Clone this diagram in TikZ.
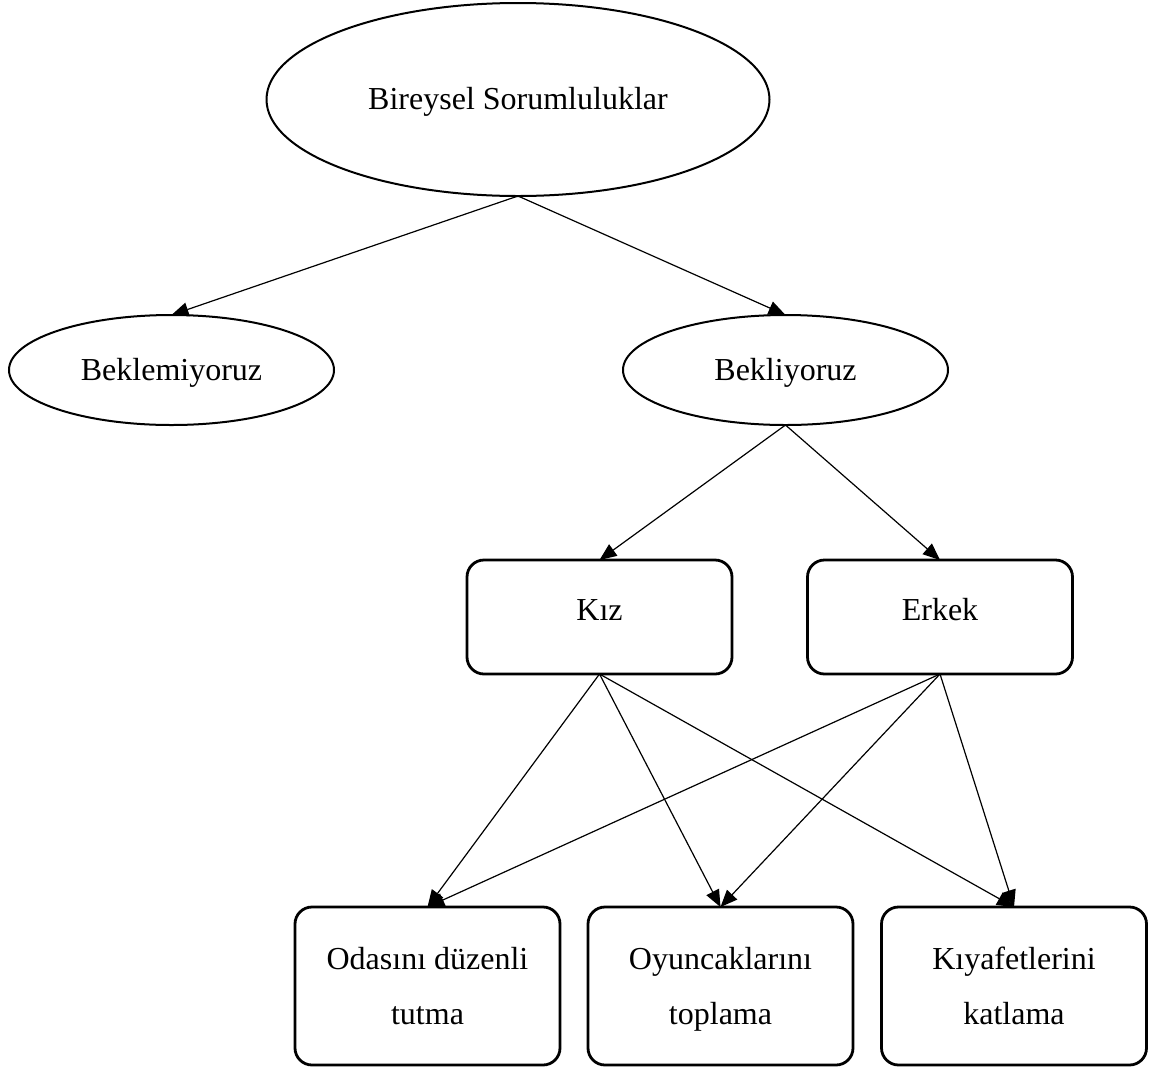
\documentclass[tikz,border=0pt]{standalone}
\usepackage{fontspec}
\setmainfont{Liberation Serif}
\usetikzlibrary{shapes.geometric,arrows.meta}

\tikzset{
  oval/.style={ellipse, draw, line width=1pt, inner sep=0pt, outer sep=0pt,
    text height=11pt, text depth=1pt},
  kutu/.style={rectangle, rounded corners=8.5pt, draw, line width=1.4pt,
    inner sep=0pt, outer sep=0pt, minimum width=132.5pt},
  ok/.style={-{Triangle[length=8.5pt,width=7pt]}, line width=0.6pt}
}

\begin{document}
\begin{tikzpicture}[x=0.5pt,y=-0.5pt,font=\fontsize{16}{27.5}\selectfont]
\useasboundingbox (0,0) rectangle (1173,1077);
% Ust seviye
\node[oval, minimum width=251.5pt, minimum height=96.5pt, text height=10.5pt] (bireysel) at (518,99.5) {Bireysel Sorumluluklar};
\node[oval, minimum width=162.5pt, minimum height=55pt] (beklemiyoruz) at (171.5,370) {Beklemiyoruz};
\node[oval, minimum width=162.5pt, minimum height=55pt] (bekliyoruz) at (785.5,370) {Bekliyoruz};
% Cinsiyet
\node[kutu, minimum height=57pt, text height=8pt, text depth=5pt] (kiz) at (599.5,617) {Kız};
\node[kutu, minimum height=57pt, text height=8pt, text depth=5pt] (erkek) at (940,617) {Erkek};
% Sorumluluklar
\node[kutu, minimum height=79pt, align=center, text depth=0pt] (oda) at (427.5,986) {Odasını düzenli\\tutma};
\node[kutu, minimum height=79pt, align=center, text depth=0pt] (oyuncak) at (720.5,986) {Oyuncaklarını\\toplama};
\node[kutu, minimum height=79pt, align=center, text depth=0pt] (kiyafet) at (1014,986) {Kıyafetlerini\\katlama};

\draw[ok] (bireysel.south) -- (beklemiyoruz.north);
\draw[ok] (bireysel.south) -- (bekliyoruz.north);
\draw[ok] (bekliyoruz.south) -- (kiz.north);
\draw[ok] (bekliyoruz.south) -- (erkek.north);
\draw[ok] (kiz.south) -- (oda.north);
\draw[ok] (kiz.south) -- (oyuncak.north);
\draw[ok] (kiz.south) -- (kiyafet.north);
\draw[ok] (erkek.south) -- (oda.north);
\draw[ok] (erkek.south) -- (oyuncak.north);
\draw[ok] (erkek.south) -- (kiyafet.north);
\end{tikzpicture}
\end{document}
